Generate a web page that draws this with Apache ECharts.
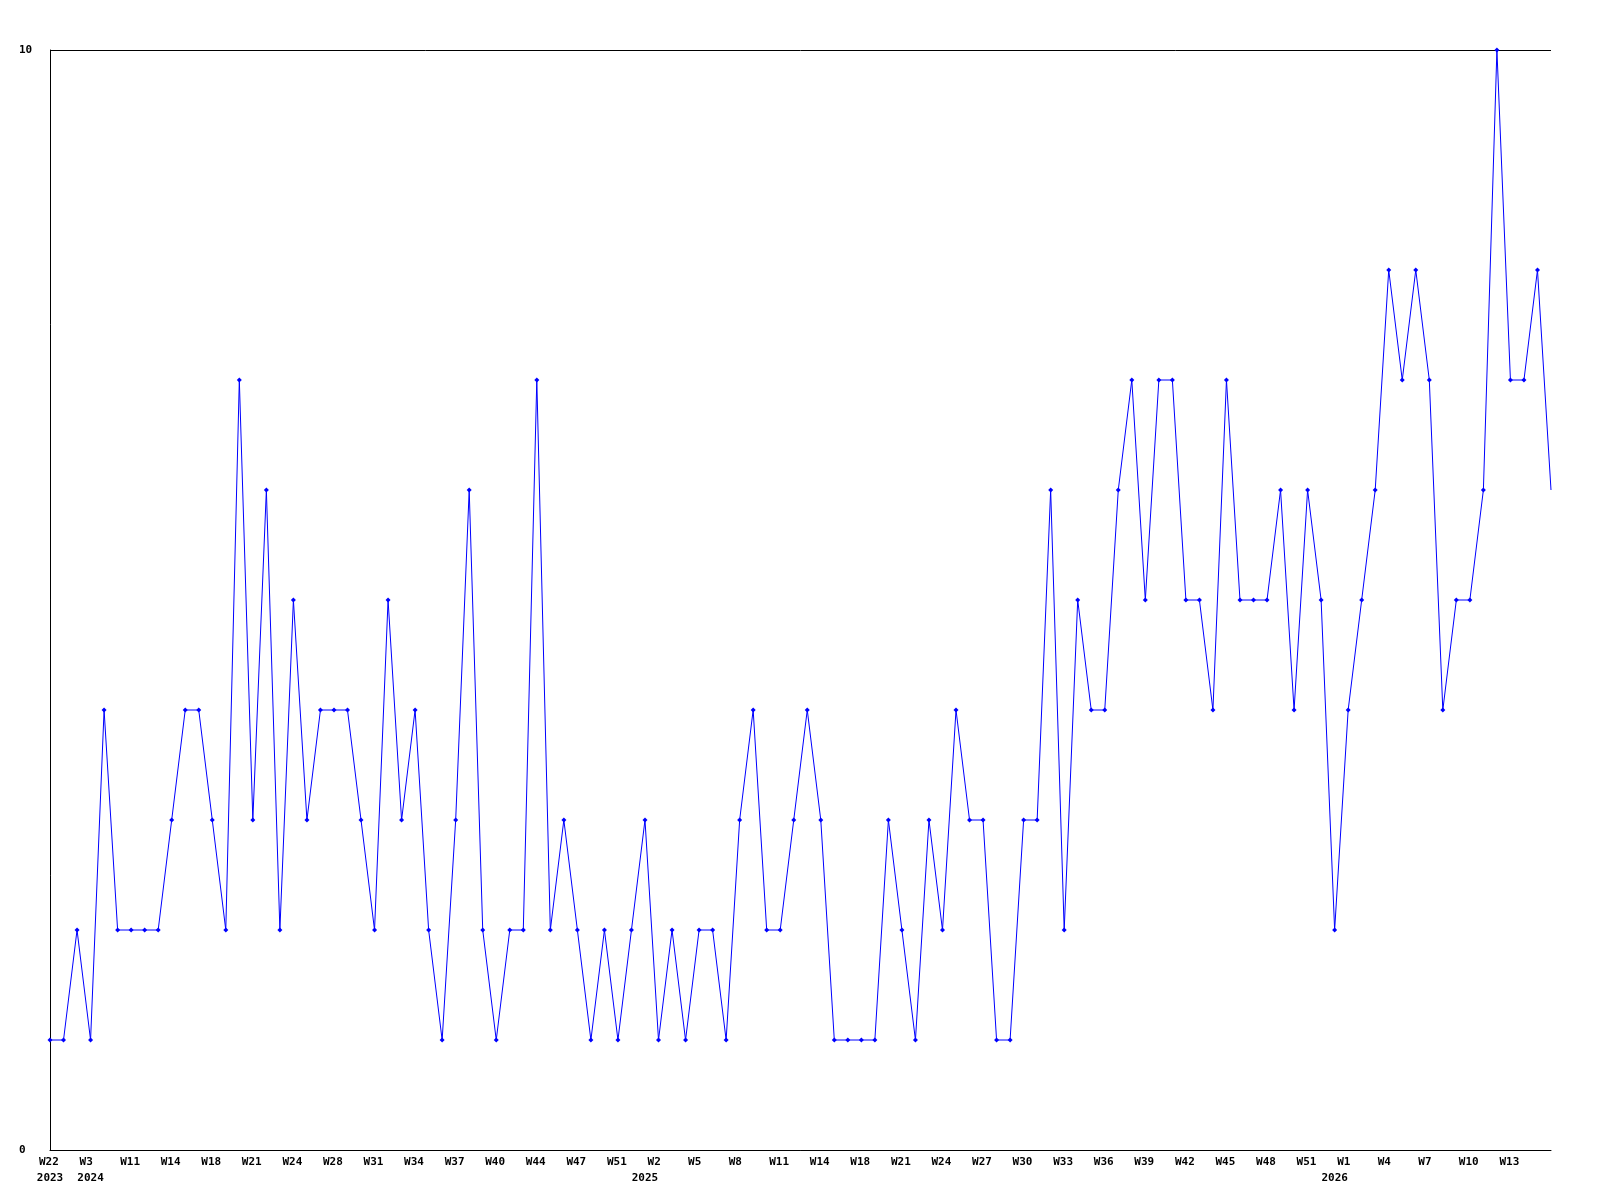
<!DOCTYPE html>
<html>
<head>
<meta charset="utf-8">
<script src="https://cdn.jsdelivr.net/npm/echarts@6/dist/echarts.min.js"></script>
<style>
html,body{margin:0;padding:0;background:#fff;}
#chart{width:1600px;height:1200px;}
</style>
</head>
<body>
<div id="chart"></div>
<script>
// Week categories (year-week), one per data point
const weeks = [
  '2023-W22','2023-W40','2023-W48','2024-W3','2024-W6','2024-W9','2024-W11','2024-W12','2024-W13','2024-W14',
  '2024-W15','2024-W17','2024-W18','2024-W19','2024-W20','2024-W21','2024-W22','2024-W23','2024-W24','2024-W25',
  '2024-W27','2024-W28','2024-W29','2024-W30','2024-W31','2024-W32','2024-W33','2024-W34','2024-W35','2024-W36',
  '2024-W37','2024-W38','2024-W39','2024-W40','2024-W41','2024-W43','2024-W44','2024-W45','2024-W46','2024-W47',
  '2024-W49','2024-W50','2024-W51','2024-W52','2025-W1','2025-W2','2025-W3','2025-W4','2025-W5','2025-W6',
  '2025-W7','2025-W8','2025-W9','2025-W10','2025-W11','2025-W12','2025-W13','2025-W14','2025-W15','2025-W17',
  '2025-W18','2025-W19','2025-W20','2025-W21','2025-W22','2025-W23','2025-W24','2025-W25','2025-W26','2025-W27',
  '2025-W28','2025-W29','2025-W30','2025-W31','2025-W32','2025-W33','2025-W34','2025-W35','2025-W36','2025-W37',
  '2025-W38','2025-W39','2025-W40','2025-W41','2025-W42','2025-W43','2025-W44','2025-W45','2025-W46','2025-W47',
  '2025-W48','2025-W49','2025-W50','2025-W51','2025-W52','2026-W0','2026-W1','2026-W2','2026-W3','2026-W4',
  '2026-W5','2026-W6','2026-W7','2026-W8','2026-W9','2026-W10','2026-W11','2026-W12','2026-W13','2026-W14',
  '2026-W15','2026-W16'
];

// Weekly counts
const counts = [
  1,1,2,1,4,2,2,2,2,3,
  4,4,3,2,7,3,6,2,5,3,
  4,4,4,3,2,5,3,4,2,1,
  3,6,2,1,2,2,7,2,3,2,
  1,2,1,2,3,1,2,1,2,2,
  1,3,4,2,2,3,4,3,1,1,
  1,1,3,2,1,3,2,4,3,3,
  1,1,3,3,6,2,5,4,4,6,
  7,5,7,7,5,5,4,7,5,5,
  5,6,4,6,5,2,4,5,6,8,
  7,8,7,4,5,5,6,10,7,7,
  8,6
];

// Y-axis range (tick labels 0 and 10)
const yMin = 0;
const yMax = 10;

const labelStep = 3;

function yearOf(i){ return weeks[i].split('-')[0]; }
function weekOf(i){ return weeks[i].split('-')[1]; }
function isYearStart(i){ return i === 0 || yearOf(i) !== yearOf(i - 1); }

const chart = echarts.init(document.getElementById('chart'), null, {renderer:'canvas'});
const FONT = 'DejaVu Sans Mono';
const txt = {color:'#000', fontFamily: FONT, fontWeight:'bold', fontSize: 11};

chart.setOption({
  animation: false,
  backgroundColor: '#ffffff',
  grid: {left: 50, right: 49, top: 50, bottom: 50, containLabel: false},
  xAxis: [{
    type: 'category',
    data: weeks,
    boundaryGap: false,
    axisLine: {show: true, lineStyle: {color: '#000', width: 1}},
    axisTick: {show: false},
    splitLine: {show: false},
    axisLabel: Object.assign({
      interval: function(i){ return i % labelStep === 0 && i + labelStep <= weeks.length - 1; },
      margin: 7,
      formatter: function(v, i){ return '{w|' + weekOf(i) + '}'; },
      rich: {w: Object.assign({width: 22, align: 'left'}, txt)}
    }, txt)
  }, {
    type: 'category',
    data: weeks,
    boundaryGap: false,
    position: 'bottom',
    axisLine: {show: false},
    axisTick: {show: false},
    splitLine: {show: false},
    axisLabel: Object.assign({
      interval: function(i){ return isYearStart(i); },
      margin: 23,
      formatter: function(v, i){ return yearOf(i); }
    }, txt)
  }],
  yAxis: {
    type: 'value',
    min: yMin,
    max: yMax,
    interval: yMax - yMin,
    axisLine: {show: true, lineStyle: {color: '#000', width: 1}},
    axisTick: {show: false},
    splitLine: {show: true, lineStyle: {color: '#000', width: 1}},
    axisLabel: Object.assign({margin: 31, align: 'left'}, txt)
  },
  series: [{
    type: 'line',
    xAxisIndex: 0,
    data: counts.map(function(v, i){
      return i === counts.length - 1 ? {value: v, symbolSize: 0} : v;
    }),
    symbol: 'diamond',
    symbolSize: 5,
    showAllSymbol: true,
    lineStyle: {color: '#0000ff', width: 1},
    itemStyle: {color: '#0000ff'},
    clip: false
  }]
});
</script>
</body>
</html>
